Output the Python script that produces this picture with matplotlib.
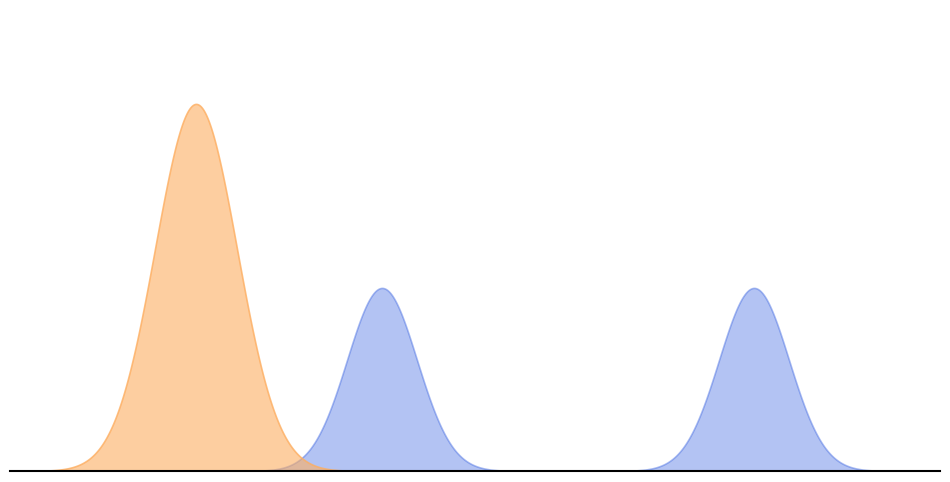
import numpy as np
import matplotlib
matplotlib.use("Agg")
import matplotlib.pyplot as plt

# Distribution parameters (x domain 0..10)
orange_means = [2.0]
orange_sds = [0.44]
orange_amps = [0.798]

blue_means = [4.0, 8.0]
blue_sds = [0.376, 0.376]
blue_amps = [0.398, 0.398]

x_min, x_max = 0.0, 10.0

def curve(xs, means, sds, amps):
    ys = np.zeros_like(xs)
    for m, s, a in zip(means, sds, amps):
        ys += a * np.exp(-0.5 * ((xs - m) / s) ** 2)
    return ys

xs = np.linspace(x_min, x_max, 2001)
y_orange = curve(xs, orange_means, orange_sds, orange_amps)
y_blue = curve(xs, blue_means, blue_sds, blue_amps)

fig = plt.figure(figsize=(9.5, 4.82), dpi=100)
ax = fig.add_axes([10/950, 11/482, 930/950, 460/482])

ax.fill_between(xs, 0, y_blue, facecolor=(65/255, 105/255, 225/255, 0.4),
                edgecolor=(65/255, 105/255, 225/255, 0.45), linewidth=1.2)
ax.fill_between(xs, 0, y_orange, facecolor=(253/255, 174/255, 97/255, 0.6),
                edgecolor=(253/255, 174/255, 97/255, 0.8), linewidth=1.2)

ax.set_xlim(x_min, x_max)
ax.set_ylim(0, 1)
for s in ["top", "right", "left"]:
    ax.spines[s].set_visible(False)
ax.spines["bottom"].set_color("black")
ax.spines["bottom"].set_linewidth(1.5)
ax.spines["bottom"].set_zorder(5)
ax.set_xticks([])
ax.set_yticks([])
ax.patch.set_alpha(0)

fig.savefig("out.png", dpi=100, facecolor="white")
